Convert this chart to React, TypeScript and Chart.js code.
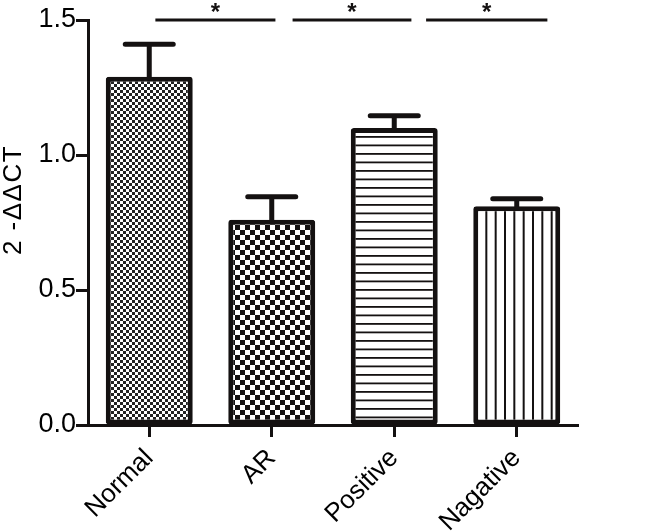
import { useEffect, useRef } from 'react';
import { Chart, registerables } from 'chart.js';

Chart.register(...registerables);

const categories = ['Normal', 'AR', 'Positive', 'Nagative'];
const means = [1.29, 0.76, 1.1, 0.81];
const errors = [0.12, 0.085, 0.045, 0.028];
const patternKinds = ['fineCheck', 'coarseCheck', 'hlines', 'vlines'];
const yTitle = '2 -ΔΔCT';
const sigStart = [0.05, 1.17, 2.26];
const sigEnd = [1.03, 2.14, 3.25];
const sigLevel = [1.5, 1.5, 1.5];
const sigLabels = ['*', '*', '*'];

const INK = '#141111';
const FONT = "'Liberation Sans', Arial, sans-serif";

function makePattern(kind: string): CanvasPattern | string {
  const c = document.createElement('canvas');
  const ctx = c.getContext('2d');
  if (!ctx) return '#fff';
  if (kind === 'fineCheck') {
    c.width = 6; c.height = 6;
    ctx.fillStyle = '#fff'; ctx.fillRect(0, 0, 6, 6);
    ctx.fillStyle = '#222';
    ctx.fillRect(0, 0, 3, 3); ctx.fillRect(3, 3, 3, 3);
  } else if (kind === 'coarseCheck') {
    c.width = 10; c.height = 10;
    ctx.fillStyle = '#fff'; ctx.fillRect(0, 0, 10, 10);
    ctx.fillStyle = INK;
    ctx.fillRect(0, 0, 5, 5); ctx.fillRect(5, 5, 5, 5);
  } else if (kind === 'hlines') {
    c.width = 10; c.height = 17;
    ctx.fillStyle = '#fff'; ctx.fillRect(0, 0, 10, 17);
    ctx.fillStyle = INK;
    ctx.fillRect(0, 0, 10, 1.8); ctx.fillRect(0, 8.5, 10, 1.8);
  } else {
    c.width = 28; c.height = 10;
    ctx.fillStyle = '#fff'; ctx.fillRect(0, 0, 28, 10);
    ctx.fillStyle = INK;
    ctx.fillRect(0, 0, 2, 10); ctx.fillRect(9.33, 0, 2, 10); ctx.fillRect(18.67, 0, 2, 10);
  }
  return ctx.createPattern(c, 'repeat') || '#fff';
}

const errorBarPlugin = {
  id: 'errorBars',
  afterDatasetsDraw(chart: any) {
    const meta = chart.getDatasetMeta(0);
    const y = chart.scales.y;
    const ctx = chart.ctx;
    ctx.save();
    ctx.strokeStyle = INK;
    ctx.lineWidth = 5;
    ctx.lineCap = 'round';
    meta.data.forEach((el: any, i: number) => {
      const top = y.getPixelForValue(means[i] + errors[i]);
      ctx.beginPath();
      ctx.moveTo(el.x, el.y + 2);
      ctx.lineTo(el.x, top);
      ctx.moveTo(el.x - 24, top);
      ctx.lineTo(el.x + 24, top);
      ctx.stroke();
    });
    ctx.restore();
  },
};

const annotationPlugin = {
  id: 'annotations',
  afterDraw(chart: any) {
    const x = chart.scales.x;
    const y = chart.scales.y;
    const ctx = chart.ctx;
    const p0 = x.getPixelForValue(0);
    const step = x.getPixelForValue(1) - p0;
    const px = (f: number) => p0 + f * step;
    ctx.save();
    ctx.strokeStyle = INK;
    ctx.fillStyle = INK;
    ctx.lineWidth = 3;
    ctx.font = `bold 24px ${FONT}`;
    ctx.textAlign = 'center';
    ctx.textBaseline = 'alphabetic';
    sigStart.forEach((s, i) => {
      const ly = y.getPixelForValue(sigLevel[i]);
      ctx.beginPath();
      ctx.moveTo(px(s), ly);
      ctx.lineTo(px(sigEnd[i]), ly);
      ctx.stroke();
      ctx.fillText(sigLabels[i], px((s + sigEnd[i]) / 2), ly);
    });
    ctx.restore();

    // y-axis title, rotated
    ctx.save();
    ctx.fillStyle = '#000';
    ctx.font = `26px ${FONT}`;
    try { (ctx as any).letterSpacing = '1.5px'; } catch (e) { /* ignore */ }
    ctx.translate(14, 200);
    ctx.rotate(-Math.PI / 2);
    ctx.textAlign = 'center';
    ctx.textBaseline = 'middle';
    ctx.fillText(yTitle, 0, 0);
    ctx.restore();
  },
};

export default function App() {
  const ref = useRef<HTMLCanvasElement | null>(null);
  useEffect(() => {
    if (!ref.current) return;
    const chart = new Chart(ref.current, {
      type: 'bar',
      data: {
        labels: categories,
        datasets: [
          {
            data: means,
            backgroundColor: patternKinds.map(makePattern) as any,
            borderColor: INK,
            borderWidth: 5,
            borderSkipped: false,
            borderRadius: 3,
            categoryPercentage: 1,
            barPercentage: 0.71,
          },
        ],
      },
      options: {
        animation: false,
        responsive: false,
        layout: { padding: { top: 20, right: 75, left: 0, bottom: 0 } },
        plugins: { legend: { display: false }, tooltip: { enabled: false } },
        scales: {
          x: {
            afterFit: (s: any) => { s.height = 107; },
            border: { display: true, color: INK, width: 3 },
            grid: {
              display: true,
              drawOnChartArea: false,
              drawTicks: true,
              offset: false,
              tickLength: 12,
              tickWidth: 3,
              tickColor: INK,
            },
            ticks: {
              color: '#000',
              font: { family: FONT, size: 26 },
              minRotation: 45,
              maxRotation: 45,
              autoSkip: false,
              padding: 6,
            },
          },
          y: {
            min: 0,
            max: 1.5,
            afterFit: (s: any) => { s.width = 88; },
            border: { display: true, color: INK, width: 3 },
            grid: {
              display: true,
              drawOnChartArea: false,
              drawTicks: true,
              tickLength: 12,
              tickWidth: 3,
              tickColor: INK,
            },
            ticks: {
              stepSize: 0.5,
              color: '#000',
              font: { family: FONT, size: 27 },
              padding: 0,
              callback: (v: any) => Number(v).toFixed(1),
            },
          },
        },
      },
      plugins: [errorBarPlugin, annotationPlugin],
    });
    return () => chart.destroy();
  }, []);
  return (
    <div style={{ position: 'fixed', left: 0, top: 0, width: 653, height: 532, background: '#fff' }}>
      <canvas ref={ref} width={653} height={532} style={{ display: 'block' }} />
    </div>
  );
}
